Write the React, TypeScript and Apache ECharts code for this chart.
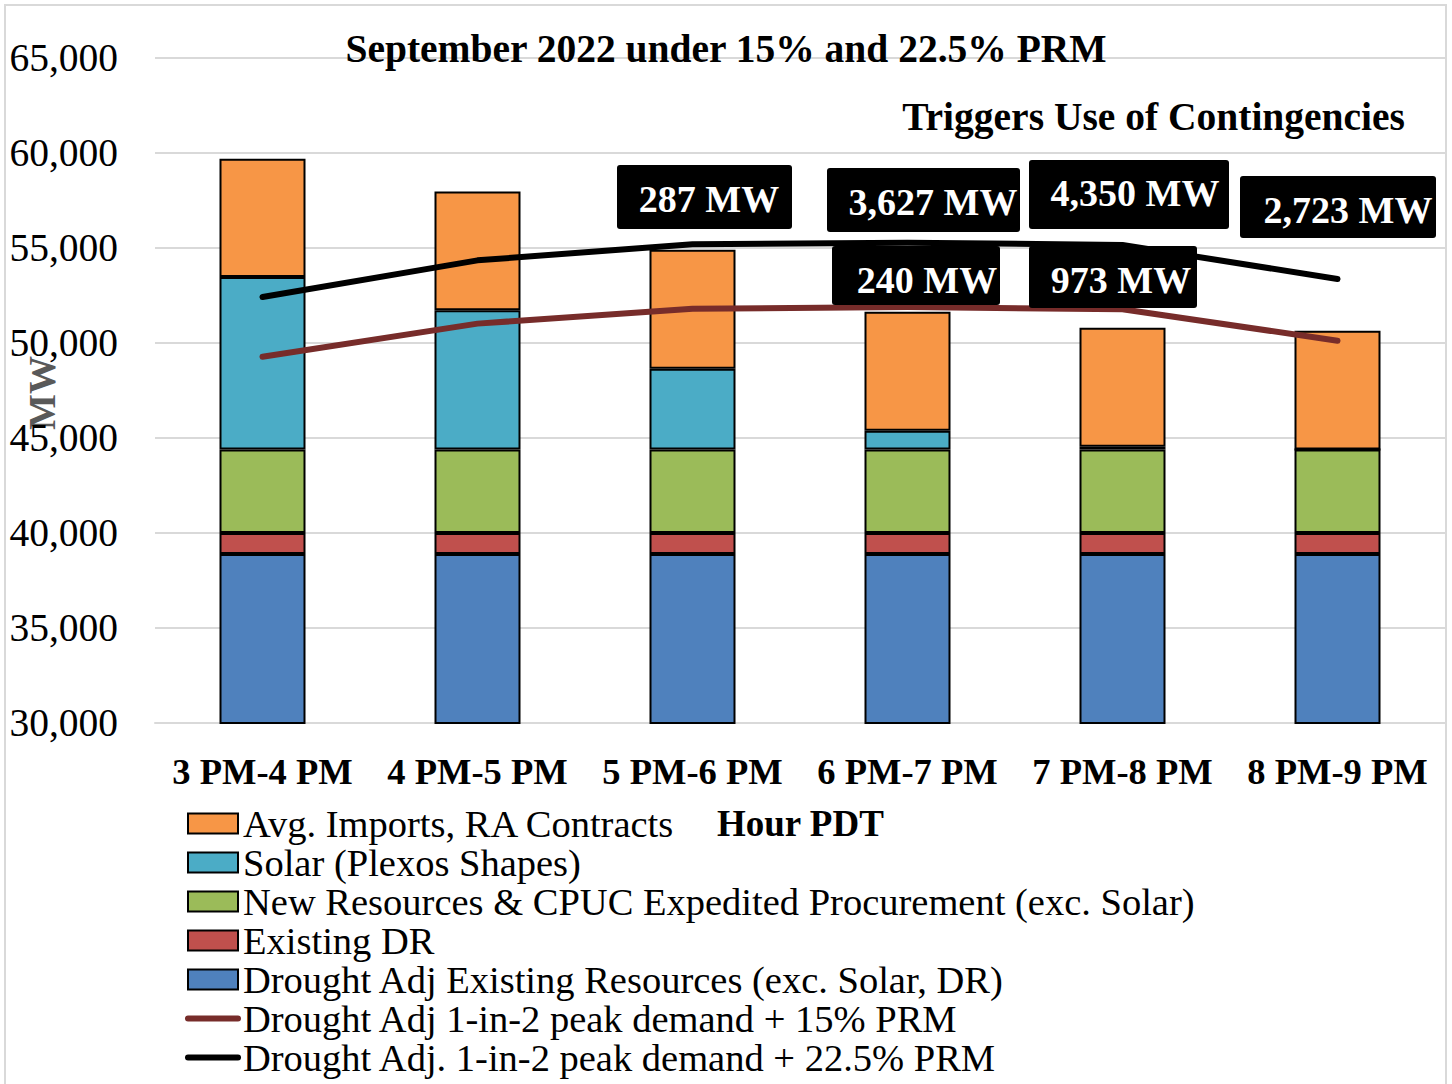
import React, { useEffect, useRef } from "react";
import * as echarts from "echarts";

const categories = ["3 PM-4 PM", "4 PM-5 PM", "5 PM-6 PM", "6 PM-7 PM", "7 PM-8 PM", "8 PM-9 PM"];
const droughtAdjExisting = [38900, 38900, 38900, 38900, 38900, 38900];
const existingDR = [1100, 1100, 1100, 1100, 1100, 1100];
const newResources = [4400, 4400, 4400, 4400, 4400, 4400];
const solar = [9070, 7320, 4250, 985, 140, 0];
const avgImports = [6230, 6250, 6260, 6265, 6260, 6250];
const demand15 = [49280, 51020, 51800, 51890, 51780, 50120];
const demand225 = [52420, 54350, 55200, 55280, 55160, 53370];
const yTicks = { min: 30000, max: 65000, interval: 5000 };

const shortfallBoxes = [
  { text: "287 MW", box: [617, 165, 175, 64], tx: 709, ty: 199 },
  { text: "3,627 MW", box: [827, 168, 193, 64], tx: 933, ty: 202 },
  { text: "4,350 MW", box: [1029, 160, 200, 69], tx: 1135, ty: 193 },
  { text: "2,723 MW", box: [1240, 176, 196, 62], tx: 1348, ty: 210 },
  { text: "240 MW", box: [832, 246, 168, 59], tx: 927, ty: 280 },
  { text: "973 MW", box: [1029, 246, 168, 62], tx: 1121, ty: 280 },
];

const FONT = "'Liberation Serif', 'Times New Roman', serif";

const S_IMPORTS = "Avg. Imports, RA Contracts";
const S_SOLAR = "Solar (Plexos Shapes)";
const S_NEW = "New Resources & CPUC Expedited Procurement (exc. Solar)";
const S_DR = "Existing DR";
const S_EXIST = "Drought Adj Existing Resources (exc. Solar, DR)";
const S_D15 = "Drought Adj 1-in-2 peak demand + 15% PRM";
const S_D225 = "Drought Adj. 1-in-2 peak demand + 22.5% PRM";

const C_IMPORTS = "#F79646";
const C_SOLAR = "#4BACC6";
const C_NEW = "#9BBB59";
const C_DR = "#C0504D";
const C_EXIST = "#4F81BD";
const C_D15 = "#772C2A";
const C_D225 = "#000000";

export default function App() {
  const ref = useRef<HTMLDivElement>(null);
  useEffect(() => {
    if (!ref.current) return;
    const chart = echarts.init(ref.current, undefined, { renderer: "svg" });
    const barStyle = (color: string) => ({ color, borderColor: "#000", borderWidth: 2 });
    const graphic: any[] = [
      {
        type: "rect",
        silent: true,
        shape: { x: 5, y: 5, width: 1441, height: 1100 },
        style: { fill: "none", stroke: "#d9d9d9", lineWidth: 2 },
      },
      {
        type: "text",
        x: 1405,
        y: 117,
        style: {
          text: "Triggers Use of Contingencies",
          align: "right",
          verticalAlign: "middle",
          font: `bold 39.5px ${FONT}`,
          fill: "#000",
        },
      },
      {
        type: "text",
        x: 717,
        y: 823,
        style: {
          text: "Hour PDT",
          align: "left",
          verticalAlign: "middle",
          font: `bold 37px ${FONT}`,
          fill: "#000",
        },
      },
      {
        type: "text",
        x: 42,
        y: 393,
        rotation: Math.PI / 2,
        style: {
          text: "MW",
          align: "center",
          verticalAlign: "middle",
          font: `bold 38px ${FONT}`,
          fill: "#595959",
        },
      },
    ];
    shortfallBoxes.forEach((b) => {
      graphic.push({
        type: "rect",
        z: 100,
        shape: { x: b.box[0], y: b.box[1], width: b.box[2], height: b.box[3], r: 3 },
        style: { fill: "#000" },
      });
      graphic.push({
        type: "text",
        z: 101,
        x: b.tx,
        y: b.ty,
        style: {
          text: b.text,
          align: "center",
          verticalAlign: "middle",
          font: `bold 38px ${FONT}`,
          fill: "#fff",
        },
      });
    });

    const barLegend = (name: string, color: string) => ({
      name,
      icon: "rect",
      itemStyle: { color, borderColor: "#000", borderWidth: 2 },
    });
    const lineLegend = (name: string, color: string) => ({
      name,
      itemStyle: { color: "rgba(0,0,0,0)", borderWidth: 0 },
      lineStyle: { color, width: 6, cap: "round" },
    });

    chart.setOption({
      animation: false,
      textStyle: { fontFamily: FONT },
      title: {
        text: "September 2022 under 15% and 22.5% PRM",
        left: "center",
        top: 24,
        textStyle: { fontFamily: FONT, fontSize: 39.5, fontWeight: "bold", color: "#000" },
      },
      grid: { left: 155, right: 7, top: 58, bottom: 361, containLabel: false },
      legend: {
        orient: "vertical",
        left: 185,
        top: 804,
        padding: 0,
        itemGap: 0,
        itemWidth: 50,
        itemHeight: 20,
        textStyle: { fontFamily: FONT, fontSize: 38.5, color: "#000", lineHeight: 39 },
        data: [
          barLegend(S_IMPORTS, C_IMPORTS),
          barLegend(S_SOLAR, C_SOLAR),
          barLegend(S_NEW, C_NEW),
          barLegend(S_DR, C_DR),
          barLegend(S_EXIST, C_EXIST),
          lineLegend(S_D15, C_D15),
          lineLegend(S_D225, C_D225),
        ],
      },
      xAxis: {
        type: "category",
        data: categories,
        axisTick: { show: false },
        axisLine: { lineStyle: { color: "#d9d9d9", width: 2 } },
        axisLabel: {
          fontFamily: FONT,
          fontSize: 36.5,
          fontWeight: "bold",
          color: "#000",
          margin: 30,
          interval: 0,
        },
      },
      yAxis: {
        type: "value",
        min: yTicks.min,
        max: yTicks.max,
        interval: yTicks.interval,
        axisLine: { show: false },
        axisTick: { show: false },
        splitLine: { lineStyle: { color: "#d9d9d9", width: 2 } },
        axisLabel: {
          fontFamily: FONT,
          fontSize: 39.5,
          color: "#000",
          margin: 37,
          formatter: (v: number) => v.toLocaleString("en-US"),
        },
      },
      series: [
        { name: S_EXIST, type: "bar", stack: "supply", barWidth: 86, data: droughtAdjExisting, itemStyle: barStyle(C_EXIST) },
        { name: S_DR, type: "bar", stack: "supply", data: existingDR, itemStyle: barStyle(C_DR) },
        { name: S_NEW, type: "bar", stack: "supply", data: newResources, itemStyle: barStyle(C_NEW) },
        { name: S_SOLAR, type: "bar", stack: "supply", data: solar, itemStyle: barStyle(C_SOLAR) },
        { name: S_IMPORTS, type: "bar", stack: "supply", data: avgImports, itemStyle: barStyle(C_IMPORTS) },
        {
          name: S_D15,
          type: "line",
          data: demand15,
          symbol: "none",
          z: 10,
          lineStyle: { color: C_D15, width: 6, cap: "round", join: "round" },
          itemStyle: { color: C_D15 },
        },
        {
          name: S_D225,
          type: "line",
          data: demand225,
          symbol: "none",
          z: 10,
          lineStyle: { color: C_D225, width: 6, cap: "round", join: "round" },
          itemStyle: { color: C_D225 },
        },
      ],
      graphic,
    });
    return () => chart.dispose();
  }, []);
  return (
    <div
      ref={ref}
      style={{ position: "fixed", left: 0, top: 0, width: 1452, height: 1084, background: "#fff" }}
    />
  );
}
